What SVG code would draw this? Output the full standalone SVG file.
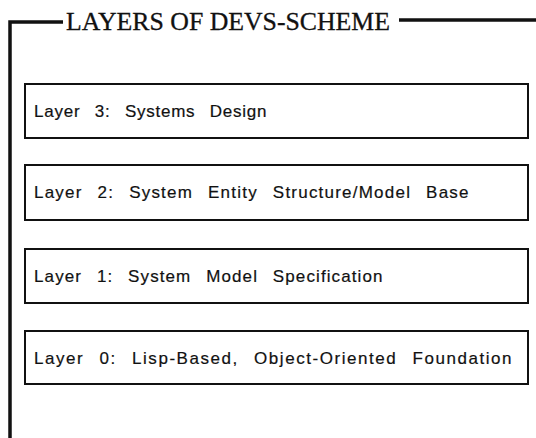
<svg xmlns="http://www.w3.org/2000/svg" width="536" height="438" viewBox="0 0 536 438">
<style>
.frame{fill:none;stroke:#111;stroke-width:3.5;stroke-linecap:butt}
.box{fill:none;stroke:#111;stroke-width:2}
.title{font-family:"Liberation Serif","Times New Roman",serif;font-size:25px;fill:#111;stroke:#111;stroke-width:0.3}
.lbl{font-family:"Liberation Sans",Arial,sans-serif;font-size:17px;fill:#111;stroke:#111;stroke-width:0.2;letter-spacing:0.5px;word-spacing:9px}
</style>
<rect width="536" height="438" fill="#fff"/>
<g id="frame">
<polyline class="frame" points="10,438 10,22 63,22"/>
<line class="frame" x1="399" y1="20" x2="536" y2="20"/>
<text class="title" x="66" y="30" textLength="324" lengthAdjust="spacingAndGlyphs">LAYERS OF DEVS-SCHEME</text>
</g>
<g id="connectors"></g>
<g id="layer3">
<rect class="box" x="25" y="84" width="503" height="54"/>
<text class="lbl" x="34" y="117" textLength="233" lengthAdjust="spacing">Layer 3: Systems Design</text>
</g>
<g id="layer2">
<rect class="box" x="25" y="165" width="503" height="55"/>
<text class="lbl" x="34" y="198" textLength="435" lengthAdjust="spacing">Layer 2: System Entity Structure/Model Base</text>
</g>
<g id="layer1">
<rect class="box" x="25" y="249" width="503" height="54"/>
<text class="lbl" x="34" y="282" textLength="349" lengthAdjust="spacing">Layer 1: System Model Specification</text>
</g>
<g id="layer0">
<rect class="box" x="25" y="331" width="503" height="53"/>
<text class="lbl" x="34" y="364" textLength="478" lengthAdjust="spacing">Layer 0: Lisp-Based, Object-Oriented Foundation</text>
</g>
</svg>
